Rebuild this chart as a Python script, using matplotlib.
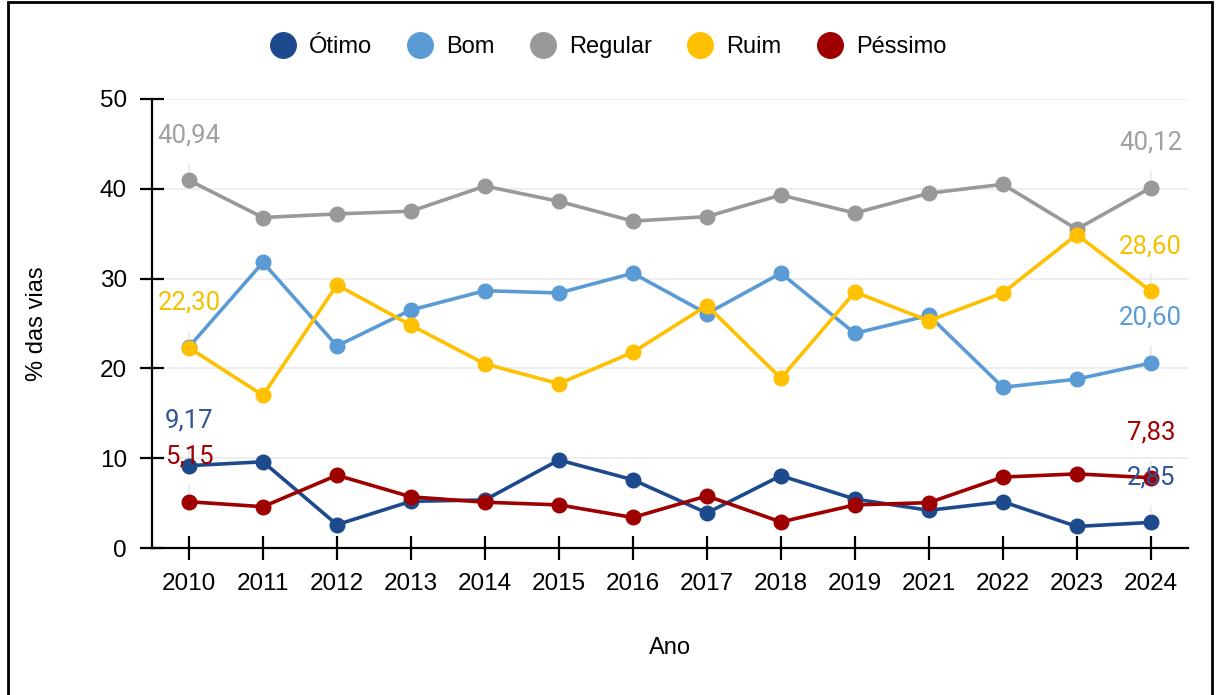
import matplotlib
matplotlib.use("Agg")
import matplotlib.pyplot as plt
from matplotlib.patches import Rectangle

plt.rcParams['font.family'] = ['Liberation Sans', 'DejaVu Sans']

anos = ['2010', '2011', '2012', '2013', '2014', '2015', '2016',
        '2017', '2018', '2019', '2021', '2022', '2023', '2024']

otimo = [9.17, 9.6, 2.6, 5.2, 5.35, 9.8, 7.6, 3.9, 8.05, 5.45, 4.2, 5.15, 2.4, 2.85]
bom = [22.4, 31.8, 22.5, 26.5, 28.65, 28.4, 30.6, 26.1, 30.6, 23.9, 25.9, 17.9, 18.8, 20.60]
regular = [40.94, 36.8, 37.2, 37.5, 40.3, 38.6, 36.4, 36.9, 39.3, 37.3, 39.5, 40.5, 35.5, 40.12]
ruim = [22.30, 17.0, 29.3, 24.8, 20.5, 18.3, 21.8, 27.0, 18.9, 28.5, 25.3, 28.4, 34.9, 28.60]
pessimo = [5.15, 4.6, 8.1, 5.7, 5.1, 4.8, 3.4, 5.8, 2.9, 4.8, 5.05, 7.9, 8.25, 7.83]

nomes = ['Ótimo', 'Bom', 'Regular', 'Ruim', 'Péssimo']
series = [otimo, bom, regular, ruim, pessimo]
cores = ['#1d4a8c', '#5b9bd5', '#999999', '#ffc000', '#9e0000']
cores_rotulo = ['#2f5597', '#5b9bd5', '#a0a0a0', '#f5c000', '#a00000']
# which series get value labels at first / last point
rotulo_inicio = [True, False, True, True, True]
rotulo_fim = [True, True, True, True, True]

fig = plt.figure(figsize=(12.17, 6.95), dpi=100)
ax = fig.add_axes([0.1249, 0.2115, 0.8511, 0.6461])

x = list(range(len(anos)))
for i, (nome, vals, cor) in enumerate(zip(nomes, series, cores)):
    ax.plot(x, vals, color=cor, lw=2.6, marker='o', markersize=10.5,
            label=nome, zorder=3 + i, solid_capstyle='round')

def rotular(xi, v, cor):
    ax.annotate(f'{v:.2f}'.replace('.', ','), xy=(xi, v), xytext=(0, 32.5),
                textcoords='offset points', ha='center', va='center',
                fontsize=18.5, color=cor, family=['Roboto', 'DejaVu Sans'],
                zorder=20,
                arrowprops=dict(arrowstyle='-', color='#e3e3e3', lw=1,
                                shrinkA=10, shrinkB=6))

for vals, cor, ini, fim in zip(series, cores_rotulo, rotulo_inicio, rotulo_fim):
    if ini:
        rotular(0, vals[0], cor)
    if fim:
        rotular(len(anos) - 1, vals[-1], cor)

ax.set_xlim(-0.5, len(anos) - 0.5)
ax.set_ylim(0, 50)
ax.set_yticks([0, 10, 20, 30, 40, 50])
ax.set_xticks(x)
ax.set_xticklabels(anos)
ax.grid(axis='y', color='#ebebeb', lw=1.2, zorder=0)
ax.set_axisbelow(True)

for s in ['top', 'right']:
    ax.spines[s].set_visible(False)
for s in ['left', 'bottom']:
    ax.spines[s].set_linewidth(1.6)
ax.tick_params(axis='both', direction='inout', length=17, width=1.6,
               labelsize=17.5, pad=9.5, colors='black')

ax.set_ylabel('% das vias', fontsize=17)
ax.set_xlabel('Ano', fontsize=17, labelpad=30)
ax.yaxis.set_label_coords(-0.1, 0.5)

fig.legend(loc='center', bbox_to_anchor=(0.5, 0.932), ncol=5, frameon=False,
           fontsize=17, handlelength=1.0, handletextpad=0.6, columnspacing=1.55,
           markerscale=1.75)
leg = fig.legends[0]
for h in leg.legend_handles:
    h.set_linestyle('none')

fig.patches.append(Rectangle((8 / 1217, -0.02), 1204 / 1217, 1.0 - 2 / 695 + 0.02,
                             transform=fig.transFigure, fill=False,
                             edgecolor='black', lw=2, zorder=100))

fig.savefig('out.png', dpi=100)
